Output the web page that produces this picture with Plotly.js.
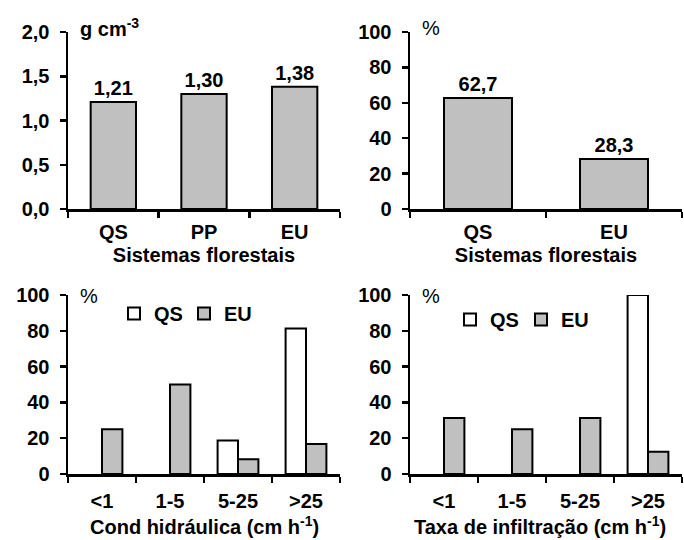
<!DOCTYPE html>
<html>
<head>
<meta charset="utf-8">
<script src="https://cdn.plot.ly/plotly-3.0.1.min.js"></script>
<style>html,body{margin:0;padding:0;background:#fff}</style>
</head>
<body>
<div id="chart" style="width:684px;height:540px"></div>
<script>
// Data
var densCats = ["QS", "PP", "EU"];
var densVals = [1.21, 1.30, 1.38];

var poroCats = ["QS", "EU"];
var poroVals = [62.7, 28.3];

var classCats = ["<1", "1-5", "5-25", ">25"];
var condQS = [0, 0, 18.75, 81.25];
var condEU = [25, 50, 8.3, 16.7];
var infQS = [0, 0, 0, 100];
var infEU = [31.25, 25, 31.25, 12.5];

var titleTop = "Sistemas florestais";
var titleCond = "Cond hidráulica (cm h<sup>-1</sup>)";
var titleInf = "Taxa de infiltração (cm h<sup>-1</sup>)";

var GREY = "#c0c0c0";
var FONT = "Liberation Sans, Arial, sans-serif";
var FS = 20;
var lineSty = {color: "#000", width: 2};
// zero-valued bars are not drawn at all in the reference (no outline on the baseline)
function nz(vals){ return vals.map(function(v){ return v === 0 ? null : v; }); }

var boldFont = {family: FONT, size: FS, color: "#000", weight: "bold"};
var plainFont = {family: FONT, size: FS, color: "#000"};

var traces = [
  {type: "bar", x: densCats, y: densVals, xaxis: "x", yaxis: "y",
   marker: {color: GREY, line: lineSty}, width: 0.5,
   text: densVals.map(function(v){return v.toFixed(2).replace(".", ",");}),
   textposition: "outside", cliponaxis: false, textfont: boldFont,
   showlegend: false, hoverinfo: "x+y"},
  {type: "bar", x: poroCats, y: poroVals, xaxis: "x2", yaxis: "y2",
   marker: {color: GREY, line: lineSty}, width: 0.5,
   text: poroVals.map(function(v){return v.toFixed(1).replace(".", ",");}),
   textposition: "outside", cliponaxis: false, textfont: boldFont,
   showlegend: false, hoverinfo: "x+y"},
  {type: "bar", name: "QS", x: classCats, y: nz(condQS), xaxis: "x3", yaxis: "y3",
   marker: {color: "#ffffff", line: lineSty}, legend: "legend", offsetgroup: "a"},
  {type: "bar", name: "EU", x: classCats, y: nz(condEU), xaxis: "x3", yaxis: "y3",
   marker: {color: GREY, line: lineSty}, legend: "legend", offsetgroup: "b"},
  {type: "bar", name: "QS", x: classCats, y: nz(infQS), xaxis: "x4", yaxis: "y4",
   marker: {color: "#ffffff", line: lineSty}, legend: "legend2", offsetgroup: "a"},
  {type: "bar", name: "EU", x: classCats, y: nz(infEU), xaxis: "x4", yaxis: "y4",
   marker: {color: GREY, line: lineSty}, legend: "legend2", offsetgroup: "b"}
];

var W = 684, H = 540;
function px(a, b){ return [a / W, b / W]; }
function py(top, bottom){ return [1 - bottom / H, 1 - top / H]; }

function xax(dom, anchor, title, lblStand){
  var ax = {domain: dom, anchor: anchor, type: "category",
    showline: true, linecolor: "#000", linewidth: 2.5,
    ticks: "outside", tickson: "boundaries", ticklen: 6, tickwidth: 2.5, tickcolor: "#000",
    tickfont: boldFont, showgrid: false, zeroline: false, fixedrange: true,
    ticklabelstandoff: lblStand};
  if (title) ax.title = {text: title, font: boldFont, standoff: 7};
  return ax;
}
function yax(dom, anchor, range, dtick, fmt){
  return {domain: dom, anchor: anchor, range: range, dtick: dtick, tick0: 0,
    tickformat: fmt, showline: true, linecolor: "#000", linewidth: 2.5,
    ticks: "outside", ticklen: 6, tickwidth: 2.5, tickcolor: "#000",
    tickfont: boldFont, showgrid: false, zeroline: false, fixedrange: true,
    ticklabelstandoff: 6};
}

var topY = py(32, 209), botY = py(295, 474);
var leftX = px(68, 340), rightX = px(410, 682);

var layout = {
  width: W, height: H,
  margin: {l: 0, r: 0, t: 0, b: 0},
  paper_bgcolor: "#fff", plot_bgcolor: "#fff",
  separators: ",.",
  font: {family: FONT, color: "#000"},
  barmode: "group", bargap: 0.4, bargroupgap: 0,
  xaxis: xax(leftX, "y", titleTop, 3),
  yaxis: yax(topY, "x", [0, 2], 0.5, ".1f"),
  xaxis2: xax(rightX, "y2", titleTop, 3),
  yaxis2: yax(topY, "x2", [0, 100], 20, "d"),
  xaxis3: xax(leftX, "y3", null, 7),
  yaxis3: yax(botY, "x3", [0, 100], 20, "d"),
  xaxis4: xax(rightX, "y4", null, 7),
  yaxis4: yax(botY, "x4", [0, 100], 20, "d"),
  legend: {orientation: "h", x: 114 / W, y: 1 - 294 / H, xanchor: "left", yanchor: "top",
    bgcolor: "rgba(0,0,0,0)", itemwidth: 30, tracegroupgap: 0,
    entrywidth: 25, entrywidthmode: "pixels", font: boldFont},
  legend2: {orientation: "h", x: 450 / W, y: 1 - 300 / H, xanchor: "left", yanchor: "top",
    bgcolor: "rgba(0,0,0,0)", itemwidth: 30, tracegroupgap: 0,
    entrywidth: 26, entrywidthmode: "pixels", font: boldFont},
  annotations: [
    {text: "g cm<sup>-3</sup>", xref: "paper", yref: "paper", x: 78 / W, y: 1 - 28 / H,
     xanchor: "left", yanchor: "middle", showarrow: false, font: boldFont},
    {text: "%", xref: "paper", yref: "paper", x: 420 / W, y: 1 - 28 / H,
     xanchor: "left", yanchor: "middle", showarrow: false, font: plainFont},
    {text: "%", xref: "paper", yref: "paper", x: 78 / W, y: 1 - 296 / H,
     xanchor: "left", yanchor: "middle", showarrow: false, font: plainFont},
    {text: "%", xref: "paper", yref: "paper", x: 420 / W, y: 1 - 296 / H,
     xanchor: "left", yanchor: "middle", showarrow: false, font: plainFont},
    {text: titleCond, xref: "paper", yref: "paper", x: 204 / W, y: 1 - 525 / H,
     xanchor: "center", yanchor: "middle", showarrow: false, font: boldFont},
    {text: titleInf, xref: "paper", yref: "paper", x: 540 / W, y: 1 - 525 / H,
     xanchor: "center", yanchor: "middle", showarrow: false, font: boldFont}
  ]
};

Plotly.newPlot("chart", traces, layout, {displayModeBar: false, staticPlot: true});
</script>
</body>
</html>
